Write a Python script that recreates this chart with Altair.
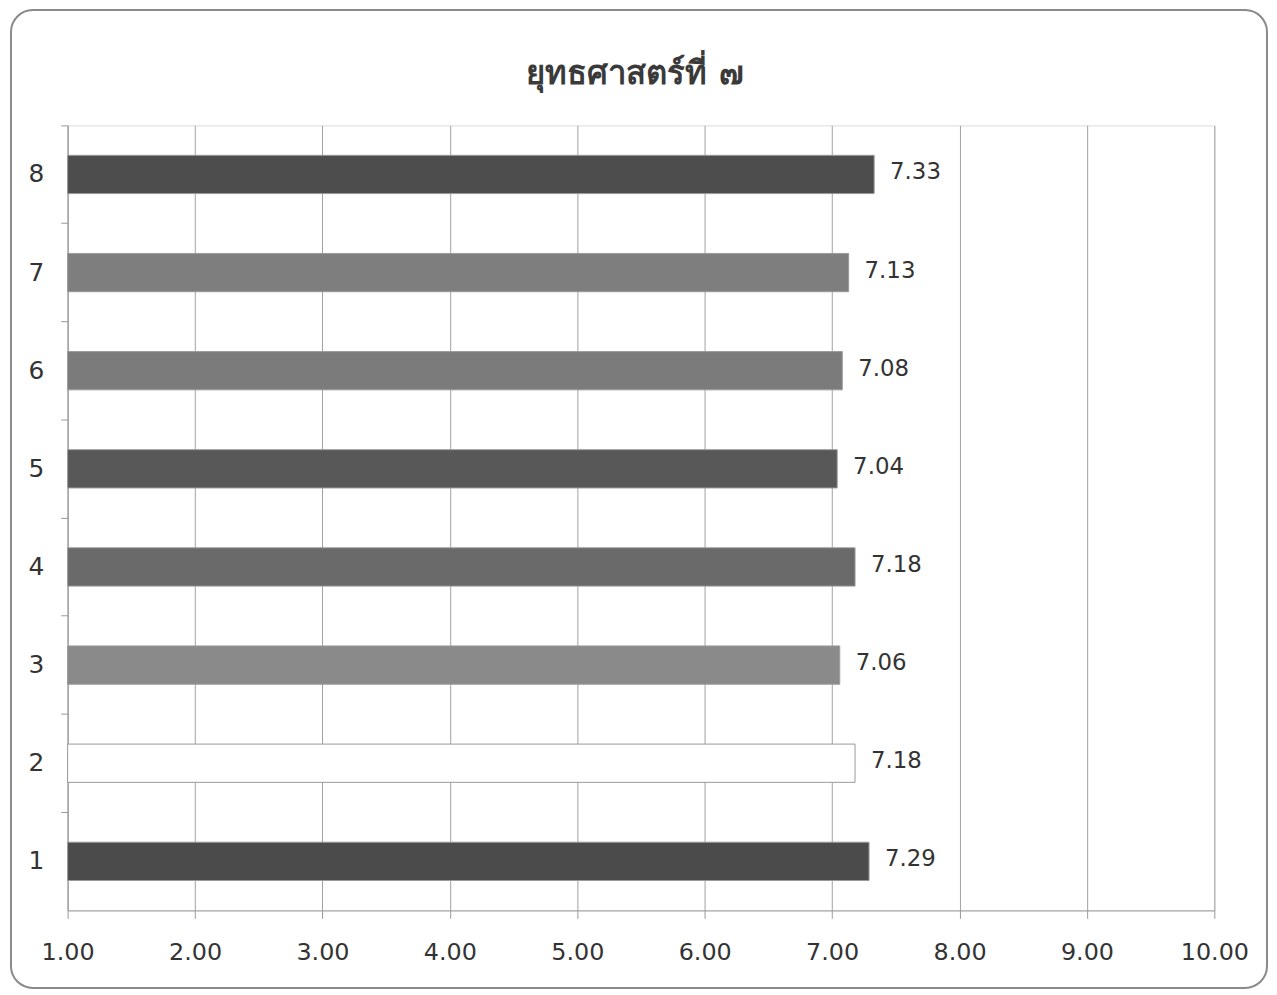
import altair as alt
import pandas as pd

categories = ["1", "2", "3", "4", "5", "6", "7", "8"]
values = [7.29, 7.18, 7.06, 7.18, 7.04, 7.08, 7.13, 7.33]
bar_colors = ["#4b4b4b", "#ffffff", "#8a8a8a", "#6a6a6a", "#585858", "#7b7b7b", "#7e7e7e", "#4d4d4d"]
x_ticks = [1, 2, 3, 4, 5, 6, 7, 8, 9, 10]
title_text = "ยุทธศาสตร์ที่   ๗"

df = pd.DataFrame({"cat": categories, "val": values})

W, H = 1154, 790
FONT = "DejaVu Sans"

y_enc = alt.Y("cat:N", sort=categories[::-1], title=None,
              scale=alt.Scale(paddingInner=0, paddingOuter=0),
              axis=alt.Axis(bandPosition=0, tickSize=7, labelPadding=17,
                            labelFontSize=25, labelFont=FONT, labelColor="#333333",
                            domainColor="#9a9a9a", tickColor="#9a9a9a", grid=False))

x_enc = alt.X("val:Q", title=None,
              scale=alt.Scale(domain=[1, 10], nice=False, zero=False),
              axis=alt.Axis(values=x_ticks, format=".2f", tickSize=8, labelPadding=22,
                            labelFontSize=24, labelFont=FONT, labelColor="#333333",
                            domainColor="#9a9a9a", tickColor="#9a9a9a",
                            gridColor="#a0a0a0", gridWidth=1, labelFlush=False))

bars = alt.Chart(df).mark_bar(stroke="#9a9a9a", strokeWidth=1,
                              height=alt.RelativeBandSize(0.39)).encode(
    y=y_enc,
    x=x_enc,
    x2=alt.datum(1),
    color=alt.Color("cat:N", scale=alt.Scale(domain=categories, range=bar_colors), legend=None),
)

labels = alt.Chart(df).mark_text(align="left", baseline="middle", dx=16, dy=-2,
                                 fontSize=23, font=FONT, color="#333333").encode(
    y=alt.Y("cat:N", sort=categories[::-1]),
    x=alt.X("val:Q"),
    text=alt.Text("val:Q", format=".2f"),
)

title = alt.Chart(alt.Data(values=[{}])).mark_text(
    text=title_text, fontSize=33, font=FONT, fontWeight="bold", color="#3a3a3a",
    align="center", baseline="middle"
).encode(x=alt.value(W / 2 - 6), y=alt.value(-52))

border = alt.Chart(alt.Data(values=[{}])).mark_rect(
    fill=None, fillOpacity=0, stroke="#8a8a8a", strokeWidth=2, cornerRadius=22
).encode(
    x=alt.value(-57), x2=alt.value(1207),
    y=alt.value(-116), y2=alt.value(868),
)

chart = alt.layer(border, bars, labels, title).properties(
    width=W, height=H,
    padding={"left": 60, "top": 115, "right": 55, "bottom": 82},
    autosize=alt.AutoSizeParams(type="none"),
).configure_view(stroke=None).configure(background="white")

chart.save("out.html", embed_options={"renderer": "svg", "actions": False})
